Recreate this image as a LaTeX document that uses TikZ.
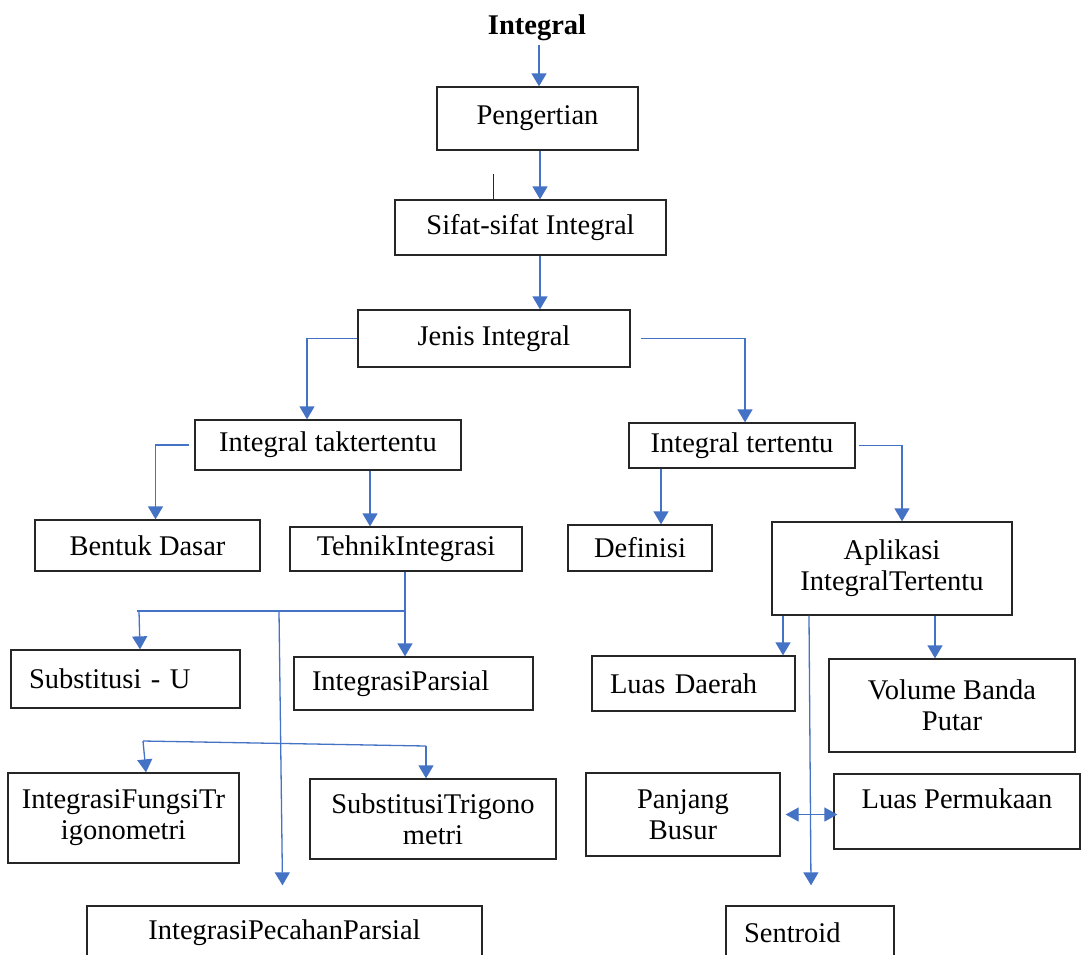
\documentclass[tikz,border=0pt]{standalone}
\usepackage{fontspec}
\setmainfont{Liberation Serif}
\usepackage{tikz}
\usetikzlibrary{arrows.meta}
\usepackage{xcolor}
\definecolor{panahbiru}{RGB}{68, 114, 196}
\definecolor{garistepi}{RGB}{38, 38, 38}

\begin{document}
\begin{tikzpicture}[x=1pt, y=-1pt,
    kotak/.style={draw=garistepi, line width=1.3pt, align=center, inner sep=0pt,
      font=\fontsize{28.5}{31}\selectfont},
    ukuran/.style 2 args={minimum width=#1pt, minimum height=#2pt},
    kiri/.style={align=left, text width=#1pt, inner xsep=18pt},
    judul/.style={font=\fontsize{28.5}{31}\selectfont\bfseries},
    panah/.style={draw=panahbiru, line width=1.3pt, -{Triangle[length=13pt, width=15pt]}},
    panahdua/.style={panah, {Triangle[length=13pt, width=14pt]}-{Triangle[length=13pt, width=14pt]}},
    garis/.style={draw=panahbiru, line width=1.3pt}]
    \useasboundingbox (0,0) rectangle (1081,954);
    \clip (0,0) rectangle (1081,954);

    \node[judul] (integral) at (537,28) {Integral};
    \node[kotak, ukuran={201}{63}] (pengertian) at (537.5,118.5) {Pengertian};
    \node[kotak, ukuran={271}{55}] (sifat) at (530.5,227.5) {Sifat-sifat Integral};
    \node[kotak, ukuran={272}{57}] (jenis) at (494,338.5) {Jenis Integral};
    \node[kotak, ukuran={266}{50}] (taktentu) at (328,445) {Integral taktertentu};
    \node[kotak, ukuran={226}{45}] (tentu) at (742,445.5) {Integral tertentu};
    \node[kotak, ukuran={225}{51}] (bentuk) at (147.5,545.5) {Bentuk Dasar};
    \node[kotak, ukuran={232}{44}] (tehnik) at (406,549) {TehnikIntegrasi};
    \node[kotak, ukuran={144}{46}] (definisi) at (640,548) {Definisi};
    \node[kotak, ukuran={240}{93}] (aplikasi) at (892,568.5) {Aplikasi\\IntegralTertentu};
    \node[kotak, ukuran={229}{58}, kiri=193] (subu) at (125.5,679) {Substitusi - U};
    \node[kotak, ukuran={239}{53}, kiri=203] (parsial) at (413.5,683.5) {IntegrasiParsial};
    \node[kotak, ukuran={203}{55}, kiri=167] (luas) at (693.5,683.5) {Luas Daerah};
    \node[kotak, ukuran={246}{93}] (volume) at (952,705.5) {Volume Banda\\Putar};
    \node[kotak, ukuran={231}{90}] (fungsitrig) at (123.5,818) {IntegrasiFungsiTr\\igonometri};
    \node[kotak, ukuran={246}{80}] (subtrig) at (433,819) {SubstitusiTrigono\\metri};
    \node[kotak, ukuran={194}{83}] (panjang) at (683,814.5) {Panjang\\Busur};
    \node[kotak, ukuran={246}{75}, text depth=25pt] (permukaan) at (957,811.5) {Luas Permukaan};
    \node[kotak, ukuran={395}{54}] (pecahan) at (284.5,933) {IntegrasiPecahanParsial};
    \node[kotak, ukuran={168}{54}, kiri=132] (sentroid) at (810,933) {Sentroid};

    \draw[panah] ([xshift=2pt]integral.south) -- ([xshift=2pt]integral.south |- pengertian.north);
    \draw[panah] ([xshift=2.5pt]pengertian.south) -- ([xshift=2.5pt]pengertian.south |- sifat.north);
    \draw[panah] ([xshift=9.5pt]sifat.south) -- ([xshift=9.5pt]sifat.south |- jenis.north);
    \draw[panah] (jenis.west) -| ([xshift=-21pt]taktentu.north);
    \draw[panah] ([xshift=10pt]jenis.east) -| ([xshift=3pt]tentu.north);
    \draw[panah] ([xshift=-5pt]taktentu.west) -| ([xshift=8pt]bentuk.north);
    \draw[panah] ([xshift=42pt]taktentu.south) -- ([xshift=42pt]taktentu.south |- tehnik.north);
    \draw[panah] ([xshift=-81pt]tentu.south) -- ([xshift=-81pt]tentu.south |- definisi.north);
    \draw[panah] ([xshift=3pt]tentu.east) -| ([xshift=10pt]aplikasi.north);

    \coordinate (cabangA) at (137,611);
    \coordinate (cabangB) at (279,611);
    \coordinate (cabangC) at (143,741);
    \coordinate (cabangD) at (426,746);
    \draw[panah] ([xshift=-1pt]tehnik.south) -- ([xshift=-1pt]tehnik.south |- parsial.north);
    \draw[garis] (cabangA) -- ([xshift=-1pt]tehnik.south |- cabangA);
    \draw[panah] ([xshift=2pt]cabangA) -- ([xshift=14.5pt]subu.north);
    \draw[panah] (cabangB) -- ([xshift=-2pt, yshift=20pt]pecahan.north);
    \draw[garis] (cabangC) -- (cabangD);
    \draw[panah] (cabangC) -- ([xshift=22.5pt]fungsitrig.north);
    \draw[panah] (cabangD) -- (cabangD |- subtrig.north);

    \draw[panah] ([xshift=-109pt]aplikasi.south) -- ([xshift=-109pt]aplikasi.south |- luas.north);
    \draw[panah] ([xshift=-83pt]aplikasi.south) -- ([xshift=1pt, yshift=20pt]sentroid.north);
    \draw[panah] ([xshift=43pt]aplikasi.south) -- ([xshift=43pt]aplikasi.south |- volume.north);
    \draw[panahdua] ([xshift=5pt]panjang.east) -- ([xshift=4pt]panjang.east -| permukaan.west);

    \coordinate (coret) at (493,174);
    \draw[garistepi, line width=1pt] (coret) -- (coret |- sifat.north);
  \end{tikzpicture}
\end{document}
